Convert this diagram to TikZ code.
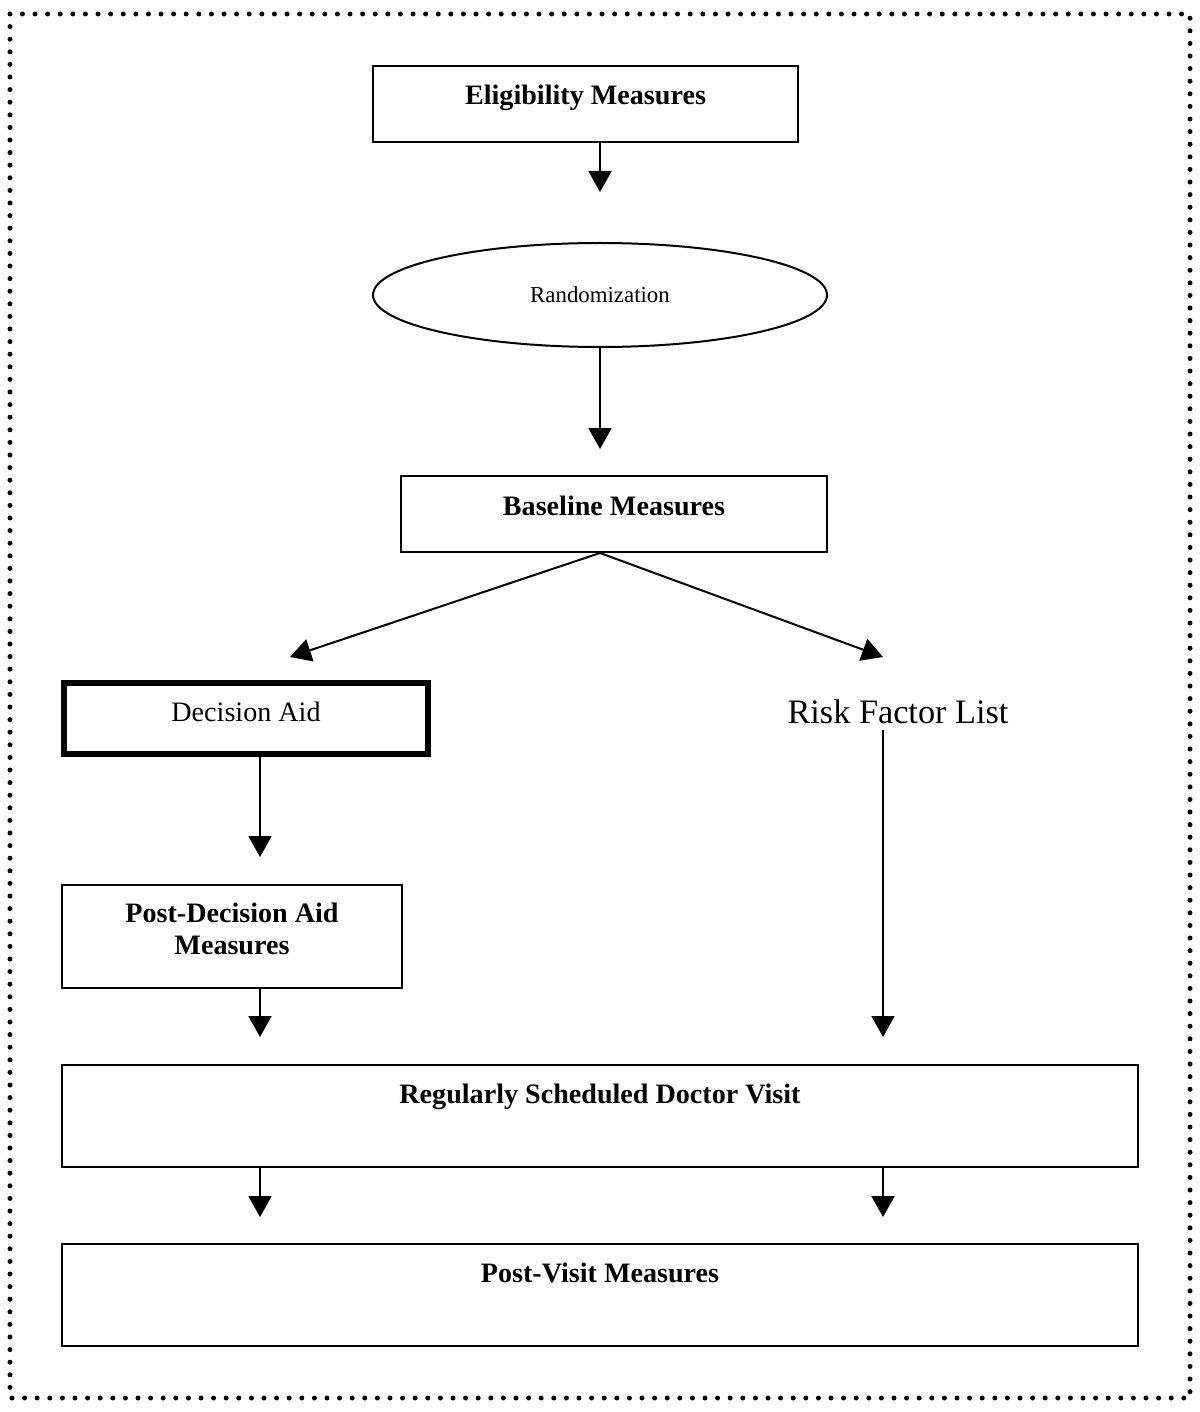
\documentclass[tikz,border=0pt]{standalone}
\usepackage{amsmath}
\usepackage{fontspec}
\setmainfont{Liberation Serif}
\usetikzlibrary{arrows.meta,shapes.geometric}

\tikzset{
  box/.style={draw, line width=0.04cm, inner sep=0pt, align=center,
              font=\fontsize{16}{18.4}\selectfont\bfseries},
  arr/.style={line width=0.04cm, -{Triangle[width=0.46cm,length=0.42cm]}}
}

\begin{document}
\begin{tikzpicture}
\useasboundingbox (0,0) rectangle (24,-28.24);
\draw[line width=0.1cm, line cap=round, dash pattern=on 0pt off 0.252cm]
    (0.2,-0.28) rectangle (23.8,-27.96);

%%   kw   (name)   (x, y)   {text}
\node[box, minimum width=8.5cm, text height=0.78cm, text depth=0.74cm]
    (elig) at (11.71,-2.08) {Eligibility Measures};
\node[draw, ellipse, line width=0.04cm, inner sep=0pt, minimum width=9.08cm,
    minimum height=2.08cm, font=\fontsize{13}{15}\selectfont]
    (rand) at (12.0,-5.9) {Randomization};
\node[box, minimum width=8.52cm, text height=0.78cm, text depth=0.74cm]
    (base) at (12.28,-10.28) {Baseline Measures};
\node[box, line width=0.12cm, minimum width=7.28cm, text height=0.76cm,
    text depth=0.66cm, font=\fontsize{16}{18.4}\selectfont]
    (da) at (4.92,-14.37) {Decision Aid};
\node[font=\fontsize{19.5}{22}\selectfont] (risk) at (17.96,-14.24) {Risk Factor List};
\node[box, minimum width=6.8cm, minimum height=2.06cm, text depth=0.3cm]
    (postda) at (4.64,-18.73) {Post-Decision Aid\\Measures};
\node[box, minimum width=21.52cm, text height=0.76cm, text depth=1.28cm]
    (visit) at (12.0,-22.32) {Regularly Scheduled Doctor Visit};
\node[box, minimum width=21.52cm, text height=0.76cm, text depth=1.28cm]
    (postv) at (12.0,-25.9) {Post-Visit Measures};

\coordinate (lcol) at (5.2,0);
\coordinate (rcol) at (17.66,0);
\coordinate (datip) at (5.8,-13.14);
\coordinate (risktip) at (17.66,-13.14);

\draw[arr, shorten >=1cm] (elig.south -| rand.north) -- (rand.north);
\draw[arr, shorten >=0.52cm] (rand.south) -- (base.north -| rand.south);
\draw[arr] (base.south -| rand.south) -- (datip);
\draw[arr] (base.south -| rand.south) -- (risktip);
\draw[arr, shorten >=0.54cm] (da.south -| lcol) -- (postda.north -| lcol);
\draw[arr, shorten >=0.54cm] (risk.south -| rcol) -- (visit.north -| rcol);
\draw[arr, shorten >=0.54cm] (postda.south -| lcol) -- (visit.north -| lcol);
\draw[arr, shorten >=0.52cm] (visit.south -| lcol) -- (postv.north -| lcol);
\draw[arr, shorten >=0.52cm] (visit.south -| rcol) -- (postv.north -| rcol);
\end{tikzpicture}
\end{document}
